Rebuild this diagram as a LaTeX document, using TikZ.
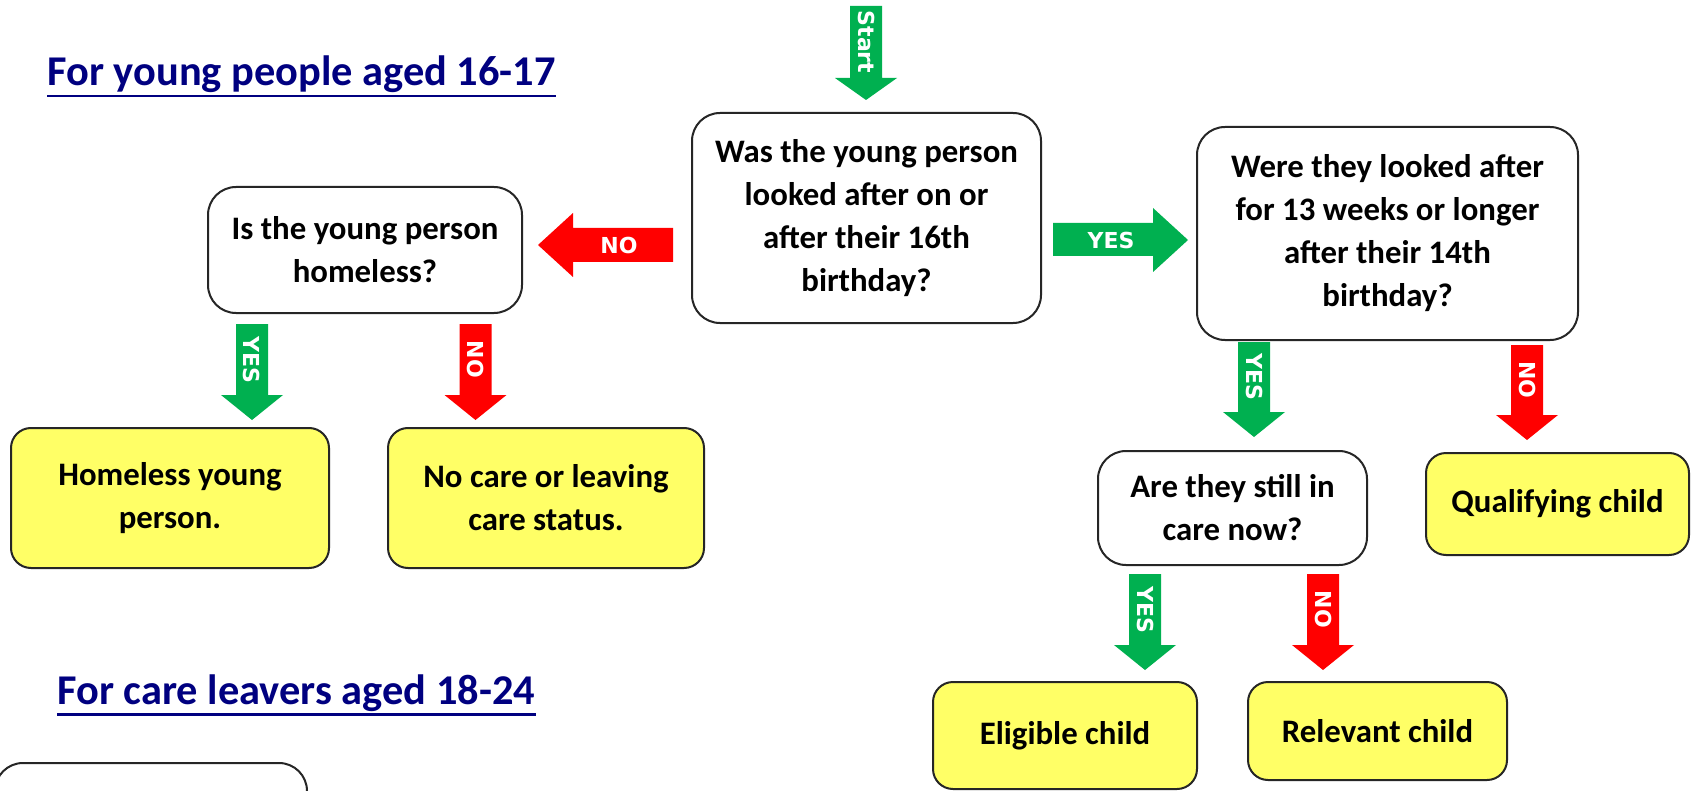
\documentclass[tikz,border=0pt]{standalone}
\usepackage{fontspec}
\setmainfont{Carlito}
\newfontfamily\arrfont{DejaVu Sans}
\definecolor{arrgreen}{RGB}{0,176,80}
\definecolor{arrred}{RGB}{255,0,0}
\definecolor{boxyellow}{RGB}{255,255,102}
\definecolor{navytitle}{RGB}{0,0,128}
\tikzset{
  qbox/.style={draw=black!85, line width=1pt, rounded corners=14pt, fill=white, align=center,
    font=\bfseries\fontsize{16.4}{21.5}\selectfont, inner sep=0pt},
  ybox/.style={qbox, rounded corners=10pt, fill=boxyellow},
  arrlabel/.style={text=white, font=\arrfont\bfseries\fontsize{11}{13}\selectfont, inner sep=0pt},
  titletext/.style={text=navytitle, font=\bfseries\fontsize{21.2}{25}\selectfont, inner sep=0pt, anchor=base west},
  titleline/.style={draw=navytitle, line width=1.1pt},
}
\newcommand\fatdown[7]{%
  \fill[#2] (#3-16,#4) -- (#3+16,#4) -- (#3+16,#5) -- (#3+31,#5) -- (#3,#6) -- (#3-31,#5) -- (#3-16,#5) -- cycle;
  \node[arrlabel, rotate=-90] (#1) at (#3,{(#4+#5)/2}) {#7};
}
\begin{document}
\begin{tikzpicture}[x=0.5pt,y=-0.5pt]
\useasboundingbox (0,0) rectangle (1691,791);
\clip (0,0) rectangle (1691,791);
\fill[white] (0,0) rectangle (1691,791);

% titles
\node[titletext] (t1) at (47,86) {For young people aged 16-17};
\draw[titleline] ([yshift=-5.2pt]t1.base west) -- ([yshift=-5.2pt]t1.base east);
\node[titletext] (t2) at (57,704) {For care leavers aged 18-24};
\draw[titleline] ([yshift=-5.2pt]t2.base west) -- ([yshift=-5.2pt]t2.base east);

% question boxes
\node[qbox, minimum width=174.5pt, minimum height=105pt] (q1) at (866.5,218)
  {Was the young person\\looked after on or\\after their 16th\\birthday?};
\node[qbox, minimum width=157pt, minimum height=63pt] (q2) at (365,250)
  {Is the young person\\homeless?};
\node[qbox, minimum width=190.5pt, minimum height=106.5pt] (q3) at (1387.5,233.5)
  {Were they looked after\\for 13 weeks or longer\\after their 14th\\birthday?};
\node[qbox, minimum width=134.5pt, minimum height=57pt] (q4) at (1232.5,508)
  {Are they still in\\care now?};
\node[qbox, minimum width=156pt, minimum height=43.5pt] (q5) at (151,806.5) {};

% result boxes
\node[ybox, minimum width=159pt, minimum height=70pt] (r1) at (170,498)
  {Homeless young\\person.};
\node[ybox, minimum width=158pt, minimum height=70pt] (r2) at (546,498)
  {No care or leaving\\care status.};
\node[ybox, minimum width=131.5pt, minimum height=51pt] (r3) at (1557.5,504)
  {Qualifying child};
\node[ybox, minimum width=132pt, minimum height=53.5pt] (r4) at (1065,735.5)
  {Eligible child};
\node[ybox, minimum width=129.5pt, minimum height=49pt] (r5) at (1377.5,731)
  {Relevant child};

% down arrows
\fatdown{aStart}{arrgreen}{866}{6}{78}{100}{Start}
\fatdown{aY1}{arrgreen}{252}{324}{395}{420}{YES}
\fatdown{aN1}{arrred}{475.5}{324}{395}{420}{NO}
\fatdown{aY2}{arrgreen}{1254}{342}{412}{437}{YES}
\fatdown{aN2}{arrred}{1527}{345}{415}{440}{NO}
\fatdown{aY3}{arrgreen}{1145}{574}{645}{670}{YES}
\fatdown{aN3}{arrred}{1323}{574}{645}{670}{NO}

% horizontal arrows
\fill[arrred] (673,228) -- (673,262) -- (573,262) -- (573,277) -- (538,245) -- (573,213) -- (573,228) -- cycle;
\node[arrlabel] (aN0) at (619,245) {NO};
\fill[arrgreen] (1053,223) -- (1153,223) -- (1153,208) -- (1188,240) -- (1153,272) -- (1153,256) -- (1053,256) -- cycle;
\node[arrlabel] (aY0) at (1111,240) {YES};
\end{tikzpicture}
\end{document}
